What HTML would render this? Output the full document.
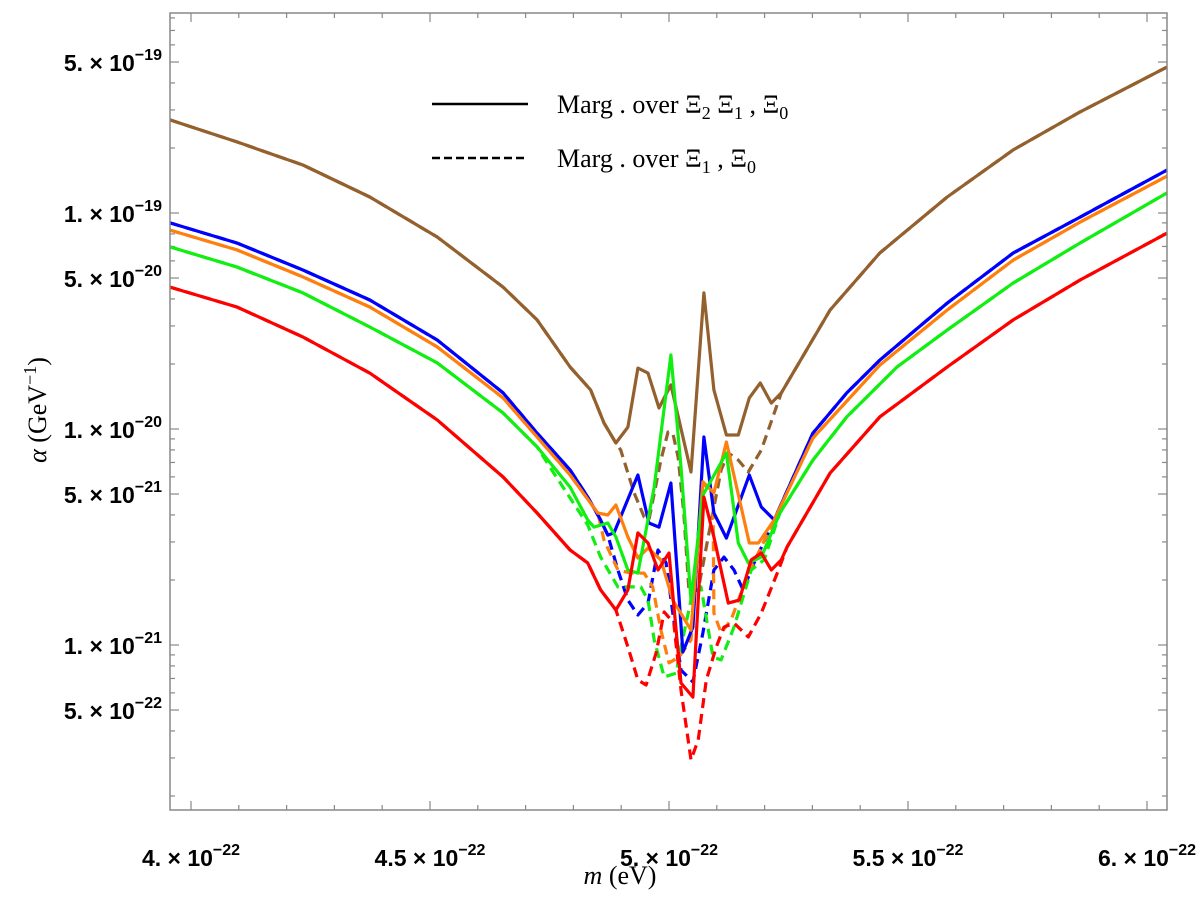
<!DOCTYPE html>
<html><head><meta charset="utf-8">
<style>
html,body{margin:0;padding:0;background:#fff;}
svg{display:block;}
.tk{font-family:"Liberation Sans",sans-serif;font-weight:bold;font-size:23px;fill:#000;}
.sup{font-size:16px;}
.lg{font-family:"Liberation Serif",serif;font-size:26px;fill:#000;}
</style></head>
<body>
<svg id="chart" width="1200" height="900" viewBox="0 0 1200 900" xmlns="http://www.w3.org/2000/svg">
<rect x="0" y="0" width="1200" height="900" fill="#fff"/>
<g id="ticks"></g>
<g id="series"></g>
<rect x="170" y="13" width="997" height="797" fill="none" stroke="#888" stroke-width="1.5"/>
<g id="labels"></g>
<g>
<line x1="432" y1="104" x2="528" y2="104" stroke="#000" stroke-width="2.5"/>
<text class="lg" x="557" y="113">Marg . over Ξ<tspan font-size="18" dy="6">2</tspan><tspan dy="-6"> Ξ</tspan><tspan font-size="18" dy="6">1</tspan><tspan dy="-6"> , Ξ</tspan><tspan font-size="18" dy="6">0</tspan></text>
<line x1="432" y1="158" x2="528" y2="158" stroke="#000" stroke-width="2.5" stroke-dasharray="8,4"/>
<text class="lg" x="557" y="167">Marg . over Ξ<tspan font-size="18" dy="6">1</tspan><tspan dy="-6"> , Ξ</tspan><tspan font-size="18" dy="6">0</tspan></text>
</g>
<text class="lg" x="620" y="884" text-anchor="middle"><tspan font-style="italic">m</tspan> (eV)</text>
<text class="lg" transform="translate(46,410) rotate(-90)" text-anchor="middle"><tspan font-style="italic">α</tspan> (GeV<tspan font-size="18" dy="-10">−1</tspan><tspan dy="10">)</tspan></text>
</svg>
<script>
// masses in units of 1e-22 eV; values are log10(alpha / GeV^-1)
const brownSolidM = [3.956,4.096,4.234,4.374,4.515,4.653,4.724,4.793,4.836,4.864,4.889,4.914,4.935,4.956,4.979,5.004,5.046,5.073,5.094,5.120,5.145,5.168,5.191,5.214,5.235,5.337,5.441,5.582,5.720,5.860,6.042];
const brownSolidV = [-18.569,-18.671,-18.778,-18.926,-19.111,-19.343,-19.495,-19.713,-19.819,-19.972,-20.065,-19.991,-19.718,-19.741,-19.903,-19.796,-20.199,-19.37,-19.819,-20.028,-20.028,-19.856,-19.787,-19.88,-19.833,-19.449,-19.185,-18.926,-18.708,-18.532,-18.324];
const brownDashM = [3.956,4.096,4.234,4.374,4.515,4.653,4.724,4.793,4.836,4.864,4.889,4.899,4.927,4.948,4.958,4.983,4.998,5.008,5.019,5.031,5.042,5.061,5.082,5.109,5.124,5.145,5.166,5.193,5.235,5.337,5.441,5.582,5.720,5.860,6.042];
const brownDashV = [-18.569,-18.671,-18.778,-18.926,-19.111,-19.343,-19.495,-19.713,-19.819,-19.972,-20.065,-20.097,-20.296,-20.407,-20.421,-20.144,-20.014,-20.019,-20.13,-20.389,-20.759,-20.745,-20.5,-20.19,-20.111,-20.144,-20.199,-20.097,-19.833,-19.449,-19.185,-18.926,-18.708,-18.532,-18.324];
const blueSolidM = [3.956,4.096,4.234,4.374,4.515,4.653,4.724,4.793,4.830,4.857,4.872,4.885,4.935,4.958,4.979,5.004,5.029,5.050,5.073,5.094,5.120,5.168,5.193,5.220,5.301,5.372,5.441,5.582,5.720,5.860,6.042];
const blueSolidV = [-19.046,-19.139,-19.264,-19.403,-19.588,-19.833,-20.019,-20.19,-20.315,-20.421,-20.491,-20.481,-20.213,-20.435,-20.454,-20.25,-21.032,-20.917,-20.037,-20.389,-20.505,-20.213,-20.361,-20.421,-20.019,-19.833,-19.681,-19.417,-19.185,-19.019,-18.801];
const blueDashM = [3.956,4.096,4.234,4.374,4.515,4.653,4.724,4.793,4.830,4.857,4.872,4.893,4.914,4.935,4.956,4.977,4.994,5.008,5.025,5.050,5.071,5.094,5.115,5.136,5.155,5.178,5.220,5.301,5.372,5.441,5.582,5.720,5.860,6.042];
const blueDashV = [-19.046,-19.139,-19.264,-19.403,-19.588,-19.833,-20.019,-20.19,-20.315,-20.421,-20.491,-20.653,-20.792,-20.861,-20.806,-20.56,-20.62,-20.852,-21.116,-21.171,-20.944,-20.653,-20.593,-20.653,-20.745,-20.62,-20.421,-20.019,-19.833,-19.681,-19.417,-19.185,-19.019,-18.801];
const orangeSolidM = [3.956,4.096,4.234,4.374,4.515,4.653,4.724,4.793,4.851,4.872,4.889,4.914,4.935,4.956,4.983,5.008,5.046,5.071,5.094,5.120,5.168,5.187,5.220,5.301,5.441,5.582,5.720,5.860,6.042];
const orangeSolidV = [-19.079,-19.171,-19.296,-19.435,-19.62,-19.856,-20.037,-20.213,-20.389,-20.398,-20.352,-20.5,-20.597,-20.551,-20.606,-20.792,-20.931,-20.245,-20.296,-20.06,-20.528,-20.528,-20.421,-20.042,-19.704,-19.449,-19.218,-19.042,-18.829];
const orangeDashM = [3.956,4.096,4.234,4.374,4.515,4.653,4.724,4.793,4.851,4.864,4.893,4.920,4.948,4.966,4.983,5.000,5.021,5.046,5.071,5.092,5.094,5.109,5.130,5.166,5.193,5.220,5.301,5.441,5.582,5.720,5.860,6.042];
const orangeDashV = [-19.079,-19.171,-19.296,-19.435,-19.62,-19.856,-20.037,-20.213,-20.389,-20.514,-20.653,-20.667,-20.667,-20.731,-20.931,-21.083,-21.056,-20.977,-20.245,-20.315,-20.852,-20.944,-20.884,-20.667,-20.546,-20.421,-20.042,-19.704,-19.449,-19.218,-19.042,-18.829];
const greenSolidM = [3.956,4.096,4.234,4.374,4.515,4.653,4.724,4.793,4.830,4.843,4.872,4.889,4.914,4.935,4.969,5.004,5.025,5.046,5.071,5.120,5.145,5.166,5.193,5.232,5.301,5.372,5.477,5.582,5.720,5.860,6.042];
const greenSolidV = [-19.157,-19.25,-19.37,-19.528,-19.694,-19.926,-20.083,-20.269,-20.421,-20.454,-20.435,-20.5,-20.653,-20.667,-20.269,-19.657,-20.176,-20.792,-20.306,-20.111,-20.528,-20.62,-20.593,-20.389,-20.144,-19.944,-19.713,-19.542,-19.324,-19.139,-18.907];
const greenDashM = [3.956,4.096,4.234,4.374,4.515,4.653,4.724,4.759,4.830,4.857,4.893,4.914,4.941,4.956,4.969,4.990,5.015,5.025,5.046,5.067,5.092,5.109,5.136,5.172,5.199,5.232,5.301,5.372,5.477,5.582,5.720,5.860,6.042];
const greenDashV = [-19.157,-19.25,-19.37,-19.528,-19.694,-19.926,-20.083,-20.204,-20.444,-20.593,-20.731,-20.731,-20.731,-20.792,-20.977,-21.148,-21.13,-21.009,-20.792,-20.731,-21.056,-21.069,-20.917,-20.653,-20.606,-20.389,-20.144,-19.944,-19.713,-19.542,-19.324,-19.139,-18.907];
const redSolidM = [3.956,4.096,4.234,4.374,4.515,4.653,4.724,4.793,4.830,4.857,4.889,4.914,4.935,4.956,4.977,5.000,5.025,5.050,5.073,5.094,5.124,5.147,5.172,5.193,5.214,5.235,5.247,5.337,5.441,5.582,5.720,5.860,6.042];
const redSolidV = [-19.343,-19.435,-19.574,-19.741,-19.958,-20.222,-20.389,-20.56,-20.62,-20.745,-20.838,-20.745,-20.481,-20.528,-20.653,-20.574,-21.176,-21.241,-20.315,-20.5,-20.806,-20.792,-20.606,-20.574,-20.653,-20.606,-20.546,-20.204,-19.944,-19.713,-19.495,-19.31,-19.093];
const redDashM = [3.956,4.096,4.234,4.374,4.515,4.653,4.724,4.793,4.830,4.857,4.889,4.914,4.935,4.952,4.973,4.990,5.010,5.025,5.046,5.061,5.078,5.099,5.115,5.136,5.166,5.193,5.229,5.247,5.337,5.441,5.582,5.720,5.860,6.042];
const redDashV = [-19.343,-19.435,-19.574,-19.741,-19.958,-20.222,-20.389,-20.56,-20.62,-20.745,-20.838,-21.009,-21.162,-21.185,-21.037,-20.847,-20.898,-21.208,-21.532,-21.44,-21.162,-21.009,-20.917,-20.898,-20.963,-20.852,-20.653,-20.546,-20.204,-19.944,-19.713,-19.495,-19.31,-19.093];

const xTickVals = [4.0,4.5,5.0,5.5,6.0];
const xTickLabels = ["4.","4.5","5.","5.5","6."];
const yTickExps = [-19,-19,-20,-20,-21,-21,-22];
const yTickMants = [5,1,5,1,5,1,5];
const yTickLabels = ["5.","1.","5.","1.","5.","1.","5."];

const X = m => 191 + (m - 4) * 478;
const Y = L => 645 - (L + 21) * 216;
const NS = "http://www.w3.org/2000/svg";
function mk(tag, attrs, parent){const e=document.createElementNS(NS,tag);for(const k in attrs)e.setAttribute(k,attrs[k]);parent.appendChild(e);return e;}

const ticks = document.getElementById('ticks');
for (let i = 39; i <= 61; i++) {
  const m = i / 10, x = X(m);
  if (x < 171 || x > 1166) continue;
  const len = (i % 5 === 0) ? 9 : 5;
  const t1 = mk('line',{x1:x,y1:810,x2:x,y2:810-len,stroke:'#888','stroke-width':1.2},ticks);
  
  
  const t2 = mk('line',{x1:x,y1:13,x2:x,y2:13+len,stroke:'#888','stroke-width':1.2},ticks);
  
  
}
for (let d = -22; d <= -19; d++) {
  for (let k = 1; k <= 9; k++) {
    const L = d + Math.log10(k), y = Y(L);
    if (y < 14 || y > 809) continue;
    const len = (k === 1 || k === 5) ? 9 : 5;
    const t1 = mk('line',{x1:170,y1:y,x2:170+len,y2:y,stroke:'#888','stroke-width':1.2},ticks);
    
    
    const t2 = mk('line',{x1:1167,y1:y,x2:1167-len,y2:y,stroke:'#888','stroke-width':1.2},ticks);
    
    
  }
}
const labels = document.getElementById('labels');
xTickVals.forEach((v,i)=>{
  const t = mk('text',{x:X(v),y:866,'text-anchor':'middle',class:'tk'},labels);
  
  
  t.innerHTML = xTickLabels[i] + ' × 10<tspan class="sup" dy="-11">−22</tspan>';
});
yTickExps.forEach((e,i)=>{
  const y = Y(e + Math.log10(yTickMants[i]));
  const t = mk('text',{x:162,y:y+9,'text-anchor':'end',class:'tk'},labels);
  
  
  t.innerHTML = yTickLabels[i] + ' × 10<tspan class="sup" dy="-11">' + '−' + Math.abs(e) + '</tspan>';
});

const seriesG = document.getElementById('series');
const defs = [
  [brownDashM,brownDashV,'#93602e',true,'brown-dashed'],
  [blueDashM,blueDashV,'#0000ff',true,'blue-dashed'],
  [orangeDashM,orangeDashV,'#ff7f0e',true,'orange-dashed'],
  [greenDashM,greenDashV,'#11ee11',true,'green-dashed'],
  [redDashM,redDashV,'#ff0000',true,'red-dashed'],
  [brownSolidM,brownSolidV,'#93602e',false,'brown-solid'],
  [blueSolidM,blueSolidV,'#0000ff',false,'blue-solid'],
  [orangeSolidM,orangeSolidV,'#ff7f0e',false,'orange-solid'],
  [greenSolidM,greenSolidV,'#11ee11',false,'green-solid'],
  [redSolidM,redSolidV,'#ff0000',false,'red-solid'],
];
defs.forEach(([ms,vs,c,dash,name])=>{
  const pts = ms.map((m,i)=>X(m).toFixed(1)+','+Y(vs[i]).toFixed(1)).join(' ');
  const attrs = {points:pts,fill:'none',stroke:c,'stroke-width':3.2,'stroke-linejoin':'round'};
  if (dash) attrs['stroke-dasharray'] = '10,6';
  const p = mk('polyline',attrs,seriesG);
  
  
});
</script>
</body></html>
